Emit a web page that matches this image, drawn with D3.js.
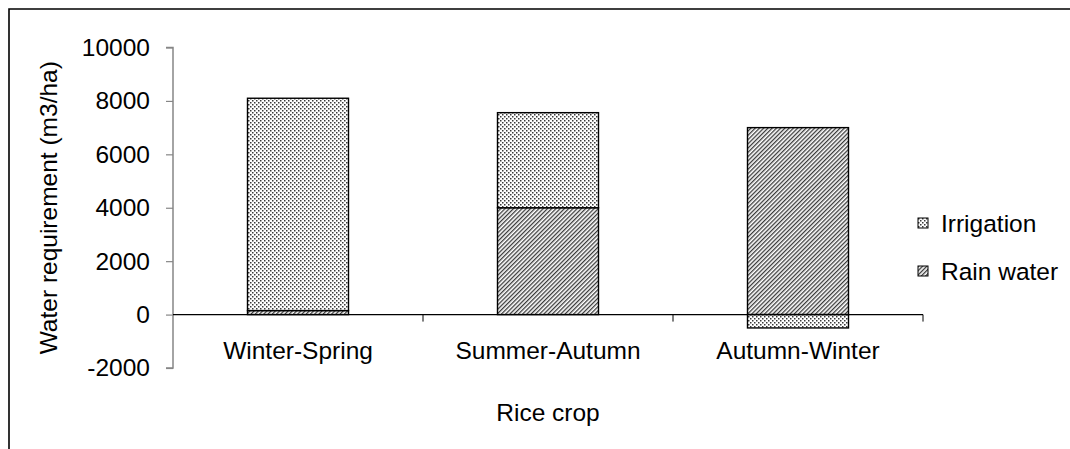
<!DOCTYPE html>
<html>
<head>
<meta charset="utf-8">
<script src="https://cdn.jsdelivr.net/npm/d3@7"></script>
<style>
  html, body { margin: 0; padding: 0; background: #fff; }
  svg { display: block; font-family: "Liberation Sans", Arial, sans-serif; }
</style>
</head>
<body>
<svg id="chart" width="1070" height="449"></svg>
<script>
// ---- data ----
const categories = ["Winter-Spring", "Summer-Autumn", "Autumn-Winter"];
const rainWater = [150, 4000, 7000];
const irrigation = [7950, 3560, -500];
const seriesNames = ["Irrigation", "Rain water"];
const yTicks = [-2000, 0, 2000, 4000, 6000, 8000, 10000];
const xTitle = "Rice crop";
const yTitle = "Water requirement (m3/ha)";

(function () {
const svg = d3.select("#chart");
const defs = svg.append("defs");

// dotted pattern (Irrigation)
const pd = defs.append("pattern").attr("id", "dots")
  .attr("patternUnits", "userSpaceOnUse").attr("width", 4).attr("height", 4);
pd.append("rect").attr("width", 4).attr("height", 4).attr("fill", "#fff");
pd.append("rect").attr("x", 0).attr("y", 0).attr("width", 1.5).attr("height", 1.5).attr("fill", "#3a3a3a");
pd.append("rect").attr("x", 2).attr("y", 2).attr("width", 1.5).attr("height", 1.5).attr("fill", "#3a3a3a");

// diagonal hatch (Rain water)
const ph = defs.append("pattern").attr("id", "hatch")
  .attr("patternUnits", "userSpaceOnUse").attr("width", 3).attr("height", 3)
  .attr("patternTransform", "rotate(45)");
ph.append("rect").attr("width", 3).attr("height", 3).attr("fill", "#fff");
ph.append("rect").attr("x", 0).attr("y", 0).attr("width", 1.3).attr("height", 3).attr("fill", "#3a3a3a");

const fills = { "Irrigation": "url(#dots)", "Rain water": "url(#hatch)" };

// frame (top and left edges of the figure border)
svg.append("path").attr("d", "M9,449 V9 H1070")
  .attr("fill", "none").attr("stroke", "#000").attr("stroke-width", 1.6);

const pLeft = 173, pRight = 923, pTop = 47.5, pBottom = 368;

const x = d3.scaleBand().domain(categories).range([pLeft, pRight]).padding(0);
const y = d3.scaleLinear().domain([-2000, 10000]).range([pBottom, pTop]);
const barW = x.bandwidth() * 0.404;

// stacked data: rain water at base, irrigation on top
const rows = categories.map((c, i) => ({ cat: c, "Rain water": rainWater[i], "Irrigation": irrigation[i] }));
const stack = d3.stack().keys(["Rain water", "Irrigation"]).offset(d3.stackOffsetDiverging);
const stacked = stack(rows);

// y axis
const yAxis = svg.append("g").attr("transform", `translate(${pLeft},0)`)
  .call(d3.axisLeft(y).tickValues(yTicks).tickSize(7).tickPadding(16).tickFormat(d => String(d)));
yAxis.select(".domain").attr("stroke", "#868686").attr("stroke-width", 1.5)
  .attr("d", `M-7,${y(10000)}H0V${y(-2000)}H-7`);
yAxis.selectAll(".tick line").attr("stroke", "#868686").attr("stroke-width", 1.2);
yAxis.selectAll(".tick text").attr("font-size", 24.5).attr("fill", "#000")
  .attr("font-family", "Liberation Sans, Arial, sans-serif");

// bars
const layers = svg.append("g").selectAll("g").data(stacked).join("g")
  .attr("fill", d => fills[d.key]);
layers.selectAll("rect").data(d => d).join("rect")
  .attr("x", d => x(d.data.cat) + (x.bandwidth() - barW) / 2)
  .attr("width", barW)
  .attr("y", d => y(Math.max(d[0], d[1])))
  .attr("height", d => Math.abs(y(d[0]) - y(d[1])))
  .attr("stroke", "#000").attr("stroke-width", 1.4);

// x axis line at zero with category boundary ticks
const xAxis = svg.append("g").attr("transform", `translate(0,${y(0)})`)
  .call(d3.axisBottom(x).tickSize(0).tickPadding(27));
xAxis.select(".domain").attr("stroke", "#000").attr("stroke-width", 1.2)
  .attr("d", `M${pLeft},0H${pRight}`);
xAxis.selectAll(".tick text").attr("font-size", 24.5).attr("fill", "#000")
  .attr("font-family", "Liberation Sans, Arial, sans-serif");
const bounds = categories.map(c => x(c) + x.bandwidth());
xAxis.selectAll(".bound").data(bounds).join("line").attr("class", "bound")
  .attr("x1", d => d).attr("x2", d => d).attr("y1", 0).attr("y2", 7)
  .attr("stroke", "#000").attr("stroke-width", 1);

// axis titles
svg.append("text").attr("x", (pLeft + pRight) / 2).attr("y", 421)
  .attr("text-anchor", "middle").attr("font-size", 24.5).text(xTitle);
svg.append("text")
  .attr("transform", `translate(57,${(pTop + pBottom) / 2}) rotate(-90)`)
  .attr("text-anchor", "middle").attr("font-size", 24.5).text(yTitle);

// legend
const lg = svg.append("g");
seriesNames.forEach((s, i) => {
  const cy = 223 + i * 48;
  lg.append("rect").attr("x", 918).attr("y", cy - 5).attr("width", 10).attr("height", 10)
    .attr("fill", fills[s]).attr("stroke", "#000").attr("stroke-width", 1);
  lg.append("text").attr("x", 941).attr("y", cy).attr("dy", "0.35em")
    .attr("font-size", 24.5).text(s);
});
})();
</script>
</body>
</html>
